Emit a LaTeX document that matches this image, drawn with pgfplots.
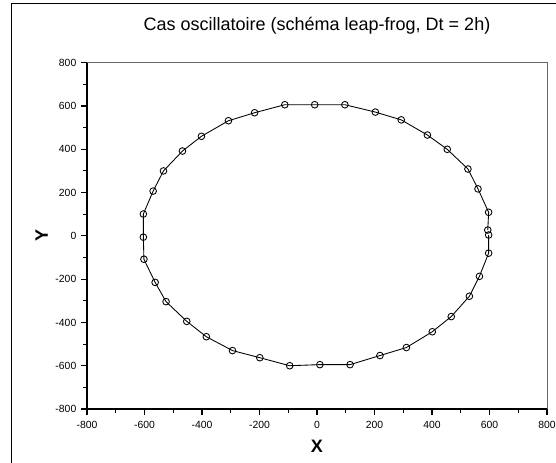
\documentclass[border=0pt]{standalone}
\usepackage{fontspec}
\setmainfont{Liberation Sans}
\usepackage{pgfplots}
\pgfplotsset{compat=1.18}
\begin{document}
\begin{tikzpicture}
\useasboundingbox (0,0) rectangle (417pt,347.25pt);
\clip (0,0) rectangle (417pt,347.25pt);
\draw[line width=0.75pt, black] (8.25pt,-10pt) -- (8.25pt,344.25pt) -- (430pt,344.25pt);
\begin{axis}[
  at={(65.25pt,40.5pt)}, anchor=south west,
  scale only axis, width=345pt, height=259.7pt,
  xmin=-800, xmax=800, ymin=-800, ymax=800,
  enlargelimits=false,
  axis x line*=bottom, axis y line*=left,
  axis line style={-, black, line width=1.1pt},
  xtick={-800,-600,...,800}, ytick={-800,-600,...,800},
  minor tick num=1,
  tick align=outside,
  major tick length=4.5pt, minor tick length=2.8pt,
  tick style={black, line width=0.8pt},
  /pgf/number format/assume math mode=true,
  ticklabel style={font=\fontsize{7.8}{9}\selectfont},
  xticklabel style={yshift=-0.8pt},
  title={Cas oscillatoire (schéma leap-frog, Dt = 2h)},
  title style={font=\fontsize{13.5}{16}\selectfont, at={(axis description cs:0.5,1.0713)}, anchor=base},
  xlabel={X}, ylabel={Y},
  xlabel style={font=\bfseries\fontsize{13.5}{16}\selectfont, at={(axis description cs:0.5,-0.1262)}, anchor=base},
  ylabel style={font=\bfseries\fontsize{13.5}{16}\selectfont, at={(axis description cs:-0.0848,0.5)}, anchor=base},
  clip=false,
]
\addplot[black, line width=0.65pt, mark=o, mark size=2.5pt, mark options={fill=white, line width=0.65pt}] coordinates {
(594,27)
(597,109)
(560,217)
(525,309)
(453,400)
(384,466)
(293,536)
(203,572)
(97,606)
(-8,606)
(-112,606)
(-217,569)
(-308,532)
(-402,460)
(-468,392)
(-534,300)
(-570,207)
(-604,101)
(-604,-6)
(-602,-108)
(-563,-215)
(-525,-304)
(-453,-395)
(-385,-466)
(-294,-530)
(-199,-563)
(-95,-600)
(10,-595)
(115,-595)
(219,-553)
(311,-516)
(401,-443)
(467,-373)
(530,-279)
(565,-187)
(597,-80)
(597,4)
};
\draw[gray!80!black, line width=0.75pt] (rel axis cs:0,1) -- (rel axis cs:1,1) -- (rel axis cs:1,0);
\end{axis}
\end{tikzpicture}
\end{document}
